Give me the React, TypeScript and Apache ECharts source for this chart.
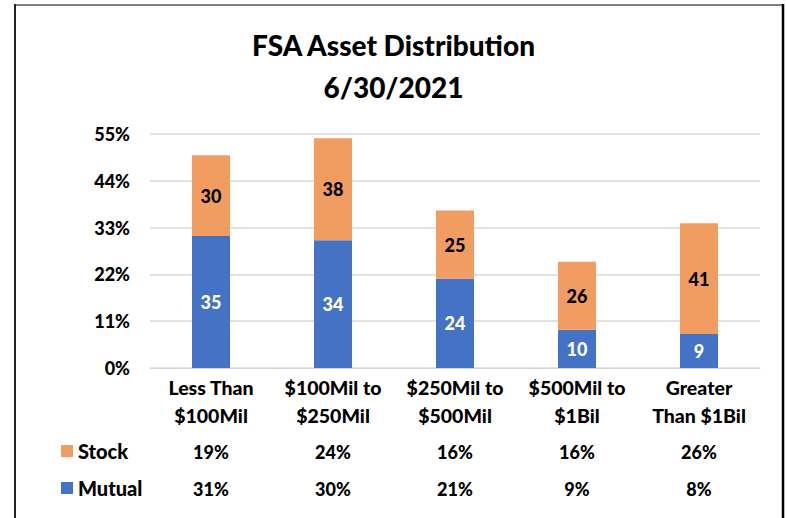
import React, { useEffect, useRef } from "react";
import * as echarts from "echarts";

const categories = ["Less Than\n$100Mil", "$100Mil to\n$250Mil", "$250Mil to\n$500Mil", "$500Mil to\n$1Bil", "Greater\nThan $1Bil"];
const mutualPct = [31, 30, 21, 9, 8];
const stockPct = [19, 24, 16, 16, 26];
const mutualCount = [35, 34, 24, 10, 9];
const stockCount = [30, 38, 25, 26, 41];
const titleLines = ["FSA Asset Distribution", "6/30/2021"];

const FONT = "Lato, 'Noto Sans', sans-serif";
const W = 900;
const BLUE = "#4472C4";
const ORANGE = "#F19C61";

export default function App() {
  const ref = useRef<HTMLDivElement>(null);
  useEffect(() => {
    if (!ref.current) return;
    const chart = echarts.init(ref.current, undefined, { renderer: "svg" });
    const tableAxis = (vals: number[], offset: number) => ({
      type: "category",
      data: vals.map((v) => v + "%"),
      position: "bottom",
      offset,
      axisLine: { show: false },
      axisTick: { show: false },
      axisLabel: { color: "#000", fontFamily: FONT, fontWeight: W, fontSize: 18 },
    });
    chart.setOption({
      animation: false,
      backgroundColor: "#fff",
      textStyle: { fontFamily: FONT },
      title: {
        text: titleLines.join("\n"),
        left: "center",
        top: 19,
        textStyle: { fontFamily: FONT, fontWeight: W, fontSize: 28, lineHeight: 42, color: "#000" },
      },
      legend: {
        data: ["Stock", "Mutual"],
        orient: "vertical",
        left: 61,
        top: 441,
        padding: 0,
        itemWidth: 12,
        itemHeight: 12,
        itemGap: 17,
        icon: "rect",
        textStyle: { fontFamily: FONT, fontWeight: W, fontSize: 20, color: "#000" },
      },
      grid: { left: 150, right: 27, top: 134, bottom: 150, containLabel: false },
      xAxis: [
        {
          type: "category",
          data: categories,
          axisLine: { show: true, lineStyle: { color: "#D9D9D9" } },
          axisTick: { show: false },
          axisLabel: { color: "#000", fontFamily: FONT, fontWeight: W, fontSize: 19.5, lineHeight: 28, margin: 5, interval: 0 },
        },
        tableAxis(stockPct, 67),
        tableAxis(mutualPct, 104),
      ],
      yAxis: {
        type: "value",
        min: 0,
        max: 55,
        interval: 11,
        axisLabel: { formatter: "{value}%", color: "#000", fontFamily: FONT, fontWeight: W, fontSize: 18, margin: 20 },
        splitLine: { lineStyle: { color: "#D9D9D9", width: 1.5 } },
        axisLine: { show: false },
        axisTick: { show: false },
      },
      series: [
        {
          name: "Mutual",
          type: "bar",
          stack: "a",
          barWidth: 38,
          data: mutualPct,
          itemStyle: { color: BLUE },
          label: {
            show: true,
            position: "inside",
            formatter: (p: any) => String(mutualCount[p.dataIndex]),
            color: "#fff",
            fontFamily: FONT,
            fontWeight: W,
            fontSize: 18,
          },
        },
        {
          name: "Stock",
          type: "bar",
          stack: "a",
          barWidth: 38,
          data: stockPct,
          itemStyle: { color: ORANGE },
          label: {
            show: true,
            position: "inside",
            formatter: (p: any) => String(stockCount[p.dataIndex]),
            color: "#000",
            fontFamily: FONT,
            fontWeight: W,
            fontSize: 18,
          },
        },
      ],
      graphic: [
        { type: "line", shape: { x1: 15, y1: 5, x2: 783, y2: 5 }, style: { stroke: "#7F7F7F", lineWidth: 2 } },
        { type: "line", shape: { x1: 15, y1: 4, x2: 15, y2: 518 }, style: { stroke: "#222", lineWidth: 2 } },
        { type: "line", shape: { x1: 783, y1: 4, x2: 783, y2: 518 }, style: { stroke: "#000", lineWidth: 2.5 } },
      ],
    });
    return () => chart.dispose();
  }, []);
  return <div ref={ref} style={{ position: "absolute", left: 0, top: 0, width: 787, height: 518 }} />;
}
